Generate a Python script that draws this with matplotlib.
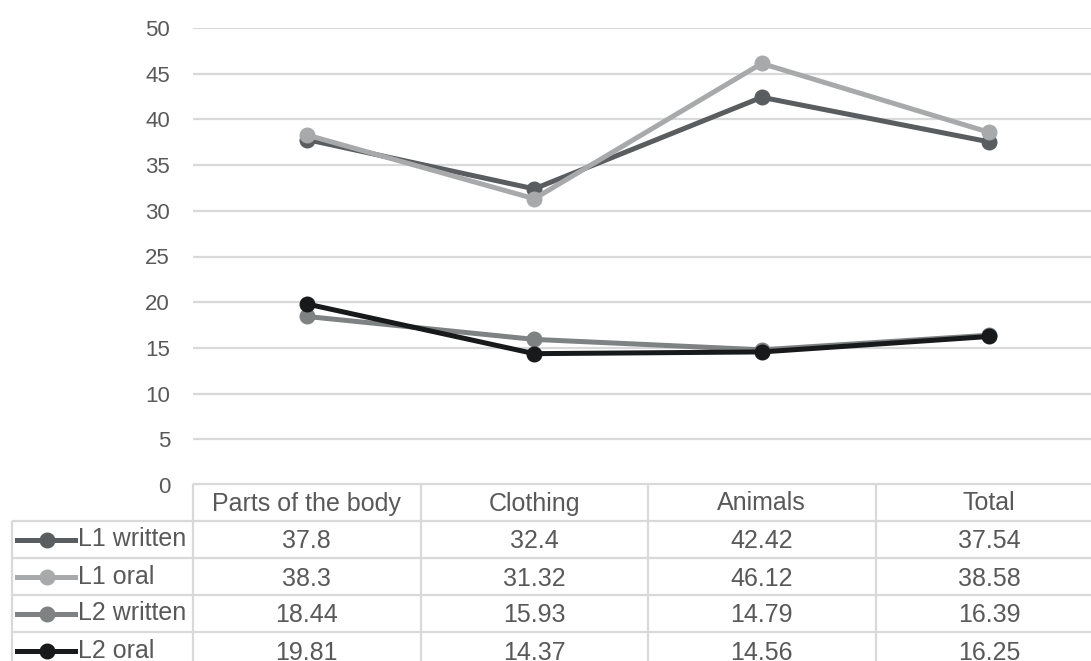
import matplotlib
matplotlib.use('agg')
import matplotlib.pyplot as plt
from matplotlib.lines import Line2D

plt.rcParams['font.family'] = ['Liberation Sans', 'DejaVu Sans']

categories = ['Parts of the body', 'Clothing', 'Animals', 'Total']
series_names = ['L1 written', 'L1 oral', 'L2 written', 'L2 oral']
l1_written = [37.8, 32.4, 42.42, 37.54]
l1_oral = [38.3, 31.32, 46.12, 38.58]
l2_written = [18.44, 15.93, 14.79, 16.39]
l2_oral = [19.81, 14.37, 14.56, 16.25]
y_ticks = [0, 5, 10, 15, 20, 25, 30, 35, 40, 45, 50]

series_values = [l1_written, l1_oral, l2_written, l2_oral]
colors = ['#5a5d5f', '#a7a9aa', '#7f8283', '#17191b']
text_color = '#595959'
grid_color = '#d9d9d9'

W, H = 1091, 661
fig = plt.figure(figsize=(W / 100, H / 100), dpi=100)

# plot area in pixels (runs a little past the right edge of the figure)
left, right = 193, 1103
top, bottom = 28, 485
ax = fig.add_axes([left / W, 1 - bottom / H, (right - left) / W, (bottom - top) / H])
ax.set_xlim(0, len(categories))
ax.set_ylim(0, 50)
for spine in ax.spines.values():
    spine.set_visible(False)
ax.set_xticks([])
ax.set_yticks(y_ticks)
ax.set_yticklabels([str(t) for t in y_ticks], fontsize=16, color=text_color)
ax.tick_params(axis='y', length=0, pad=16.5)
for t in y_ticks[1:]:
    ax.axhline(t, color=grid_color, lw=1.6, zorder=0)

xs = [i + 0.5 for i in range(len(categories))]
for vals, c in zip(series_values, colors):
    ax.plot(xs, vals, color=c, lw=3.6, marker='o', markersize=10.5,
            solid_capstyle='round', zorder=3, clip_on=False)

# data table drawn in pixel coordinates below the plot
tab = fig.add_axes([0, 0, 1, 1])
tab.set_xlim(0, W)
tab.set_ylim(H, 0)
tab.axis('off')
tab.patch.set_alpha(0)

col_w = (right - left) / len(categories)
col_edges = [left + i * col_w for i in range(len(categories) + 1)]
row_h = 37
header_top = bottom - 1
row_edges = [header_top + i * row_h for i in range(len(series_names) + 2)]
line_kw = dict(color=grid_color, lw=1.6, solid_capstyle='butt')

# header row borders
tab.plot([left, right], [header_top, header_top], **line_kw)
for x in col_edges:
    tab.plot([x, x], [header_top, H + 5], **line_kw)
tab.plot([12, 12], [row_edges[1], H + 5], **line_kw)
for y in row_edges[1:-1]:
    tab.plot([12, right], [y, y], **line_kw)

for i, name in enumerate(categories):
    tab.text(col_edges[i] + col_w / 2, header_top + row_h / 2 + 1, name,
             ha='center', va='center', fontsize=18, color=text_color)

for r, (name, vals, c) in enumerate(zip(series_names, series_values, colors)):
    yc = row_edges[r + 1] + row_h / 2
    tab.add_line(Line2D([17, 75], [yc, yc], color=c, lw=3.6))
    tab.add_line(Line2D([47], [yc], color=c, marker='o', markersize=10.5, lw=0))
    tab.text(78, yc, name, ha='left', va='center', fontsize=18, color=text_color)
    for i, v in enumerate(vals):
        tab.text(col_edges[i] + col_w / 2, yc + 2, f'{v:g}',
                 ha='center', va='center', fontsize=18, color=text_color)

fig.savefig('out.png', dpi=100)
